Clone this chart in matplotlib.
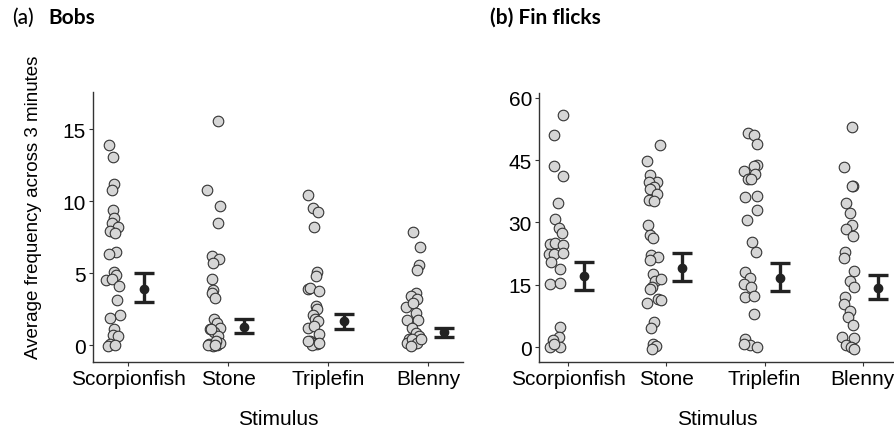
import numpy as np
import matplotlib
matplotlib.use("Agg")
from matplotlib import pyplot as plt

plt.rcParams['font.family'] = ['Liberation Sans', 'DejaVu Sans']

# categories shared by both panels
stimuli = ["Scorpionfish", "Stone", "Triplefin", "Blenny"]

# (a) Bobs - raw counts per fish
bobs_scorp = [13.9, 13.1, 11.2, 10.8, 9.4, 8.8, 8.5, 8.2, 7.9, 7.8, 6.5, 6.3, 5.1, 4.5, 4.9,
              4.6, 4.1, 3.1, 2.1, 1.9, 1.1, 0.7, 0.6, 0.05, -0.1, 0.0]
bobs_stone = [15.6, 10.8, 9.7, 8.5, 6.2, 6.0, 5.7, 4.6, 3.8, 3.6, 3.3, 1.8, 1.5, 1.2, 1.1,
              0.9, 0.6, 0.05, -0.07, 0.0, 0.15, 0.0, 0.3, 0.0, 1.1]
bobs_trip = [10.4, 9.5, 9.25, 8.2, 5.1, 4.8, 3.9, 4.0, 3.75, 2.7, 2.5, 2.1, 1.8, 1.7, 1.2,
             1.35, 0.8, 0.28, 0.17, 0.05, 0.0, 0.17, 0.28]
bobs_blen = [7.85, 6.83, 5.54, 5.19, 3.64, 3.41, 3.22, 2.64, 2.94, 2.25, 1.72, 1.74, 1.21, 0.85,
             0.39, 0.62, 0.05, 0.16, 0.39, 0.16, -0.07, 0.39]
# jitter of each point (category units)
jit_bobs_scorp = [-0.19, -0.15, -0.14, -0.16, -0.15, -0.14, -0.16, -0.10, -0.18, -0.13, -0.12, -0.19, -0.14,
                  -0.22, -0.12, -0.16, -0.09, -0.11, -0.08, -0.18, -0.14, -0.15, -0.10, -0.18, -0.20, -0.13]
jit_bobs_stone = [-0.10, -0.21, -0.08, -0.10, -0.16, -0.09, -0.15, -0.16, -0.15, -0.16, -0.13, -0.14, -0.11,
                  -0.08, -0.18, -0.14, -0.10, -0.19, -0.15, -0.11, -0.08, -0.20, -0.12, -0.13, -0.17]
jit_bobs_trip = [-0.20, -0.15, -0.10, -0.14, -0.11, -0.12, -0.20, -0.18, -0.09, -0.12, -0.11, -0.15, -0.13,
                 -0.10, -0.20, -0.14, -0.09, -0.18, -0.15, -0.11, -0.16, -0.09, -0.20]
jit_bobs_blen = [-0.15, -0.08, -0.09, -0.11, -0.12, -0.17, -0.11, -0.22, -0.15, -0.12, -0.21, -0.10, -0.16,
                 -0.12, -0.19, -0.09, -0.15, -0.21, -0.16, -0.11, -0.17, -0.07]
bobs_mean = [3.92, 1.28, 1.67, 0.88]
bobs_low = [3.01, 0.81, 1.14, 0.56]
bobs_high = [5.03, 1.79, 2.18, 1.21]

# (b) Fin flicks
fin_scorp = [56.0, 51.1, 43.7, 41.3, 34.7, 30.9, 28.7, 27.5, 24.9, 25.1, 24.5, 22.5, 22.5, 22.7,
             20.4, 18.7, 15.2, 15.5, 4.8, 2.4, 1.8, 0.0, 0.0, 0.8]
fin_stone = [48.7, 44.9, 41.5, 39.7, 39.7, 38.5, 38.1, 36.9, 35.5, 35.1, 29.3, 26.9, 26.2, 22.1,
             21.7, 20.9, 17.6, 16.0, 16.4, 14.4, 14.0, 11.6, 11.4, 10.7, 6.0, 4.6, 0.8, 0.2, -0.4]
fin_trip = [51.5, 51.1, 48.9, 43.9, 43.5, 42.3, 41.7, 40.5, 40.5, 36.2, 36.5, 32.9, 30.6, 25.3,
            22.9, 18.0, 16.7, 15.2, 14.4, 12.0, 12.3, 8.0, 2.0, 0.4, 0.0, 0.8]
fin_blen = [52.9, 43.3, 38.9, 38.9, 34.6, 32.2, 29.3, 28.5, 26.7, 23.0, 21.5, 18.4, 15.8, 14.4,
            12.0, 10.4, 8.8, 7.2, 5.2, 2.4, 2.2, 0.4, 0.0, -0.4]
jit_fin_scorp = [-0.06, -0.15, -0.15, -0.06, -0.11, -0.14, -0.10, -0.07, -0.19, -0.14, -0.06, -0.20,
                 -0.15, -0.06, -0.18, -0.09, -0.19, -0.09, -0.09, -0.10, -0.16, -0.19, -0.09, -0.15]
jit_fin_stone = [-0.07, -0.20, -0.17, -0.10, -0.18, -0.13, -0.17, -0.10, -0.18, -0.13, -0.19, -0.17,
                 -0.14, -0.16, -0.09, -0.17, -0.14, -0.12, -0.06, -0.15, -0.17, -0.09, -0.06, -0.20,
                 -0.13, -0.16, -0.14, -0.11, -0.15]
jit_fin_trip = [-0.17, -0.11, -0.08, -0.08, -0.11, -0.21, -0.10, -0.17, -0.14, -0.20, -0.08, -0.08,
                -0.18, -0.13, -0.09, -0.20, -0.15, -0.21, -0.14, -0.20, -0.11, -0.11, -0.20, -0.15,
                -0.08, -0.21]
jit_fin_blen = [-0.11, -0.19, -0.10, -0.11, -0.17, -0.13, -0.11, -0.17, -0.10, -0.18, -0.19, -0.09,
                -0.13, -0.09, -0.18, -0.19, -0.13, -0.15, -0.10, -0.21, -0.09, -0.17, -0.12, -0.09]
fin_mean = [17.0, 19.1, 16.7, 14.2]
fin_low = [13.8, 15.9, 13.4, 11.5]
fin_high = [20.6, 22.7, 20.3, 17.4]


def drawPanel(ax, values, jitters, mean, low, high, ylim, yticks):
    """Jittered raw points left of each category, mean +/- error bar right of it."""
    for i, (vals, jit) in enumerate(zip(values, jitters)):
        x = (i + 1) + np.array(jit)
        ax.scatter(x, vals, s=58, facecolor="#d6d6d6", edgecolor="#333333", linewidth=0.8, zorder=3)
    xpos = np.arange(1, len(stimuli) + 1) + 0.16
    mean = np.array(mean)
    err = [mean - np.array(low), np.array(high) - mean]
    ax.errorbar(xpos, mean, yerr=err, fmt="o", color="#222222", markersize=6,
                elinewidth=2.4, capsize=7.5, capthick=2.4, zorder=4)
    ax.set_xlim(0.65, 4.35)
    ax.set_ylim(*ylim)
    ax.set_yticks(yticks)
    ax.set_xticks(range(1, len(stimuli) + 1))
    ax.set_xticklabels(stimuli)
    for s in ["top", "right"]:
        ax.spines[s].set_visible(False)
    for s in ["left", "bottom"]:
        ax.spines[s].set_color("#333333")
        ax.spines[s].set_linewidth(1.0)
    ax.tick_params(labelsize=15, length=3, width=0.8, color="#333333", pad=2, labelcolor="black")
    ax.set_xlabel("Stimulus", fontsize=15, labelpad=15)


fig = plt.figure(figsize=(8.95, 4.31), dpi=100)
axA = fig.add_axes([0.1039, 0.1578, 0.4134, 0.6265])
axB = fig.add_axes([0.6022, 0.1578, 0.3978, 0.6242])

drawPanel(axA, [bobs_scorp, bobs_stone, bobs_trip, bobs_blen],
          [jit_bobs_scorp, jit_bobs_stone, jit_bobs_trip, jit_bobs_blen],
          bobs_mean, bobs_low, bobs_high, (-1.18, 17.6), [0, 5, 10, 15])
drawPanel(axB, [fin_scorp, fin_stone, fin_trip, fin_blen],
          [jit_fin_scorp, jit_fin_stone, jit_fin_trip, jit_fin_blen],
          fin_mean, fin_low, fin_high, (-3.6, 61.2), [0, 15, 30, 45, 60])
axB.set_xlim(0.7, 4.33)

fig.text(0.037, 0.52, "Average frequency across 3 minutes", rotation=90,
         ha="center", va="center", fontsize=13.5)

# panel titles
fig.text(0.013, 0.958, "(a)", fontsize=15, family="Lato", weight="medium", va="center")
fig.text(0.054, 0.958, "Bobs", fontsize=15, family="Lato", weight="bold", va="center")
fig.text(0.547, 0.958, "(b) Fin flicks", fontsize=15, family="Lato", weight="bold", va="center")

fig.savefig("out.png", dpi=100)
